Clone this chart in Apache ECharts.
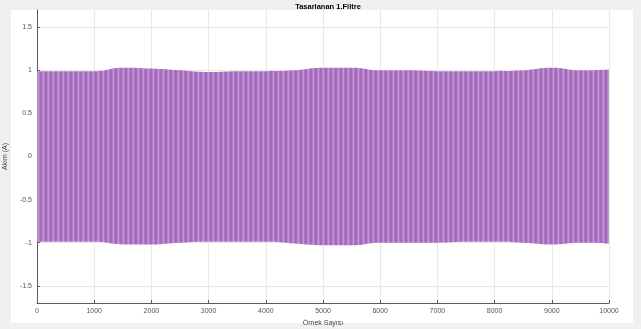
<!DOCTYPE html>
<html><head><meta charset="utf-8">
<script src="https://cdn.jsdelivr.net/npm/echarts@6/dist/echarts.min.js"></script>
<style>html,body{margin:0;padding:0;background:#f0f0f0}#c{width:641px;height:329px}</style>
</head><body><div id="c"></div>
<script>
// Envelope of the oscillating current signal
const samples  = [0,500,1000,1500,2000,2500,3000,3500,4000,4500,5000,5500,6000,6500,7000,7500,8000,8500,9000,9500,10000];
const upperEnv = [0.99,0.99,0.99,1.03,1.02,1.00,0.98,0.99,0.99,1.00,1.03,1.03,1.00,1.00,0.99,0.99,0.99,1.00,1.03,1.00,1.01];
const lowerEnv = [-0.99,-0.99,-0.99,-1.02,-1.02,-1.00,-0.99,-0.99,-0.99,-1.01,-1.03,-1.03,-1.00,-1.00,-1.00,-0.99,-0.99,-1.00,-1.02,-1.00,-1.01];
const xTicks = [0,1000,2000,3000,4000,5000,6000,7000,8000,9000,10000];
const yTicks = [-1.5,-1,-0.5,0,0.5,1,1.5];
const titleText = 'Tasarlanan 1.Filtre';
const xName = 'Örnek Sayısı';
const yName = 'Akım (A)';

// stripe pattern imitating the dense oscillation
const pc = document.createElement('canvas');
pc.width = 5; pc.height = 4;
const g = pc.getContext('2d');
const cols = ['#a466bd','#a96dc0','#b47ec8','#c39bd3','#b077c5'];
cols.forEach((c,i)=>{ g.fillStyle = c; g.fillRect(i,0,1,4); });

const chart = echarts.init(document.getElementById('c'), null, {renderer:'canvas'});
const up = samples.map((s,i)=>[s, upperEnv[i]]);
const lo = samples.map((s,i)=>[s, lowerEnv[i]]);
const axisCol = '#5a5a5a';
chart.setOption({
  backgroundColor: '#f0f0f0',
  animation: false,
  title: {text: titleText, left: 323, top: -2, textAlign: 'center',
    textStyle: {fontFamily: 'Liberation Sans', fontSize: 7.5, fontWeight: 'bold', color: '#000'}},
  graphic: [{type:'rect', shape:{x:11,y:10,width:622,height:313}, style:{fill:'#ffffff'}, z:-10, silent:true}],
  grid: {left: 37, right: 32, top: 10, bottom: 26, outerBoundsMode: 'none', containLabel: false},
  xAxis: {type:'value', min: 0, max: 10000, interval: 1000,
    name: xName, nameLocation:'middle', nameGap: 12,
    nameTextStyle:{fontFamily:'Liberation Sans', fontSize:7, color:'#444'},
    axisLine:{show:true, onZero:false, lineStyle:{color:axisCol, width:1}},
    axisTick:{show:true, inside:true, length:3, lineStyle:{color:axisCol}},
    axisLabel:{fontFamily:'Liberation Sans', fontSize:7, color:'#555', margin:5,
      formatter: v => xTicks.includes(v) ? String(v) : ''},
    splitLine:{show:true, lineStyle:{color:'#e8e8e8', width:1}}},
  yAxis: {type:'value', min: -1.7, max: 1.7,
    name: yName, nameLocation:'middle', nameGap: 19, nameRotate: 90,
    nameTextStyle:{fontFamily:'Liberation Sans', fontSize:7, color:'#444'},
    axisLine:{show:true, onZero:false, lineStyle:{color:axisCol, width:1}},
    axisTick:{show:true, inside:true, length:3, lineStyle:{color:axisCol}, customValues: yTicks},
    axisLabel:{fontFamily:'Liberation Sans', fontSize:7, color:'#555', margin:5, customValues: yTicks,
      formatter: v => String(v)},
    splitLine:{show:true, lineStyle:{color:'#e8e8e8', width:1}}},
  series: [
    {type:'line', data: up, smooth: true, symbol:'none', lineStyle:{width:0, opacity:0},
      areaStyle:{color:{image: pc, repeat:'repeat'}, opacity:1, origin: -0.5}},
    {type:'line', data: lo, smooth: true, symbol:'none', lineStyle:{width:0, opacity:0},
      areaStyle:{color:{image: pc, repeat:'repeat'}, opacity:1, origin: 0.5}}
  ]
});
</script></body></html>
